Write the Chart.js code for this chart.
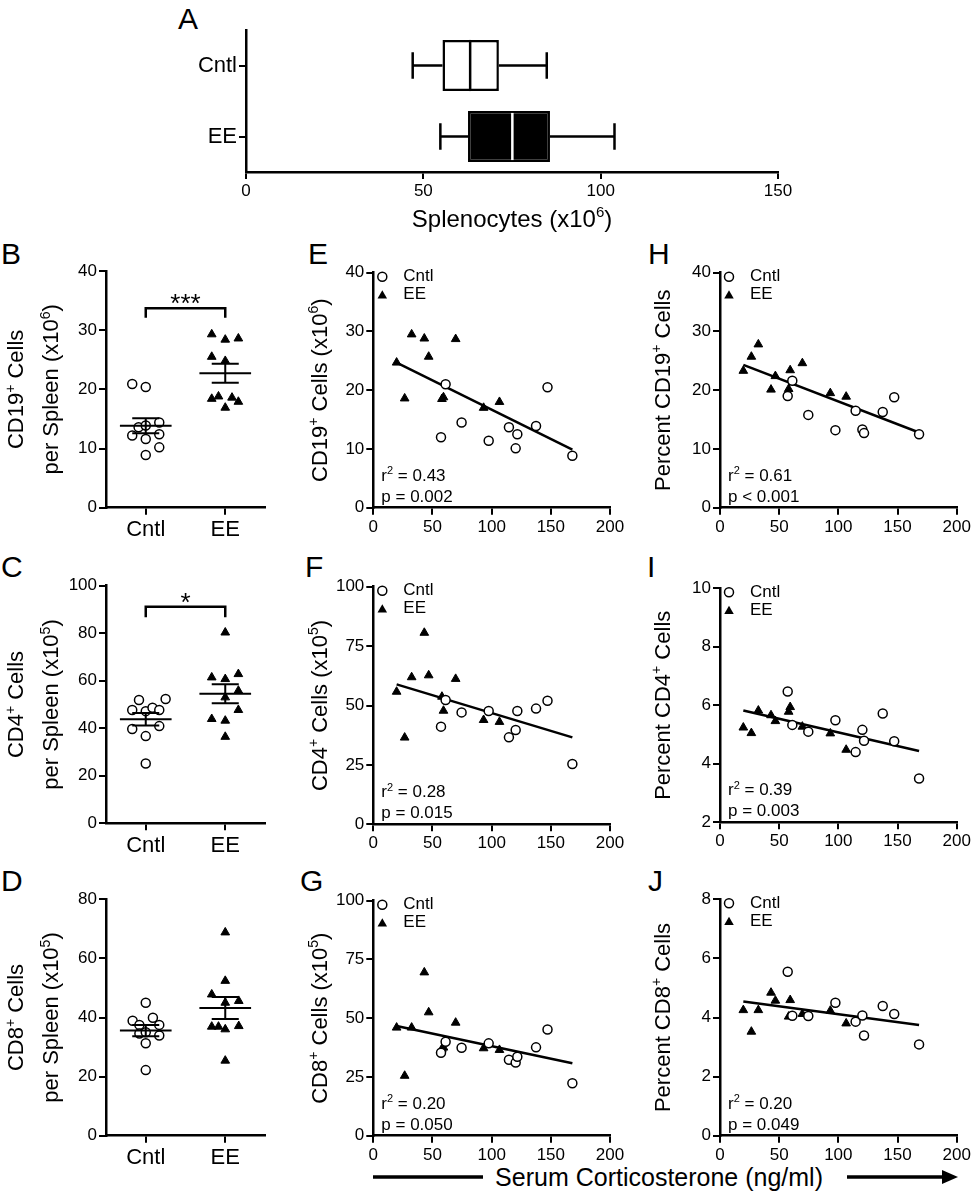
<!DOCTYPE html>
<html><head><meta charset="utf-8">
<script src="https://cdn.jsdelivr.net/npm/chart.js@4.4.1/dist/chart.umd.min.js"></script>
<style>
body{margin:0;background:#fff;}
#page{position:relative;width:971px;height:1197px;overflow:hidden;background:#fff;font-family:'Liberation Sans',Arial,Helvetica,sans-serif;color:#000;}
canvas{position:absolute;}
.lbl{position:absolute;font-size:30px;line-height:30px;white-space:nowrap;}
#xt{position:absolute;font-size:25px;line-height:26px;white-space:nowrap;}
svg{position:absolute;left:0;top:0;}
</style></head><body><div id="page">
<div class="lbl" style="left:178px;top:4px">A</div>
<div class="lbl" style="left:1px;top:239px">B</div>
<div class="lbl" style="left:308px;top:239px">E</div>
<div class="lbl" style="left:648px;top:239px">H</div>
<div class="lbl" style="left:1px;top:552px">C</div>
<div class="lbl" style="left:305px;top:552px">F</div>
<div class="lbl" style="left:647px;top:552px">I</div>
<div class="lbl" style="left:1px;top:866px">D</div>
<div class="lbl" style="left:300px;top:866px">G</div>
<div class="lbl" style="left:648px;top:866px">J</div>
<svg width="971" height="1197">
<line x1="373" y1="1177" x2="483" y2="1177" stroke="#000" stroke-width="3.5"/>
<line x1="847" y1="1177" x2="945" y2="1177" stroke="#000" stroke-width="3.5"/>
<polygon points="942,1170 958,1177 942,1184" fill="#000"/>
</svg>
<div id="xt" style="right:148px;top:1164px">Serum Corticosterone (ng/ml)</div>
</div>
<script>
// ---------- DATA ----------
// Panel A (box plot, splenocytes x10^6)
const boxCategories = ['Cntl', 'EE'];
const boxMin    = [47.0, 54.8];
const boxQ1     = [55.4, 62.6];
const boxMedian = [63.2, 75.1];
const boxQ3     = [71.3, 85.7];
const boxMax    = [84.8, 103.9];
const boxTicks  = [0, 50, 100, 150];

// Panels B-D (per spleen), values + horizontal jitter (in category units)
const groupLabels = ['Cntl', 'EE'];
const cd19Cntl = [20.9, 20.4, 13.6, 13.9, 14.4, 12.2, 11.6, 12.4, 10.2, 8.9];
const cd19CntlJit = [-0.34, 0, -0.18, 0, 0.34, -0.34, 0, 0.34, 0.34, 0];
const cd19EE = [29.3, 28.4, 28.6, 25.5, 24.8, 18.4, 18.8, 18.6, 17.9, 16.9];
const cd19EEJit = [-0.34, 0, 0.33, -0.34, 0, -0.34, -0.17, 0.17, 0.33, 0];
const cd4Cntl = [51.9, 52.3, 47.7, 47.2, 48.6, 47.7, 39.7, 40.9, 36.7, 25.2];
const cd4CntlJit = [-0.17, 0.5, -0.34, 0, 0.17, 0.34, -0.34, 0.34, 0, 0];
const cd4EE = [80.3, 61.4, 60.7, 62.8, 55.8, 53.0, 47.7, 43.9, 43.2, 36.4];
const cd4EEJit = [0, -0.34, 0, 0.33, 0.33, 0, 0.33, -0.34, 0, 0];
const cd8Cntl = [45.0, 38.9, 39.9, 37.5, 37.5, 34.6, 35.0, 33.9, 31.3, 22.2];
const cd8CntlJit = [0, -0.33, 0.18, -0.16, 0.34, -0.16, 0, 0.34, 0, 0];
const cd8EE = [68.8, 52.4, 47.8, 45.0, 45.6, 36.9, 36.9, 36.0, 37.1, 25.4];
const cd8EEJit = [0, 0, -0.34, 0, 0.34, -0.34, -0.17, 0, 0.34, 0];

// Panels E-J: serum corticosterone (ng/ml) per mouse
const cortCntl = [61.1, 57.2, 74.6, 97.5, 114.6, 120.3, 121.7, 137.5, 147.2, 168.2];
const cortEE   = [19.7, 26.5, 32.4, 43.1, 46.8, 58.0, 59.3, 69.6, 93.2, 106.6];
const eCntl = [21.0, 12.0, 14.5, 11.4, 13.7, 10.1, 12.5, 13.9, 20.5, 8.85];
const eEE   = [24.7, 18.6, 29.5, 28.8, 25.7, 18.5, 18.8, 28.7, 17.0, 18.0];
const fCntl = [52.3, 41.1, 47.1, 47.7, 36.6, 39.7, 47.7, 48.7, 52.0, 25.4];
const fEE   = [55.8, 36.5, 61.9, 80.6, 62.7, 53.7, 47.8, 61.2, 43.9, 43.1];
const gCntl = [40.0, 35.3, 37.4, 39.3, 32.3, 31.1, 33.6, 37.6, 45.2, 22.3];
const gEE   = [46.0, 25.5, 46.0, 69.5, 52.5, 37.0, 37.5, 48.1, 37.2, 36.5];
const hCntl = [21.6, 19.0, 15.8, 13.2, 16.5, 13.3, 12.7, 16.3, 18.8, 12.5];
const hEE   = [23.3, 25.7, 27.8, 20.1, 22.4, 20.2, 23.4, 24.6, 19.5, 18.9];
const iCntl = [5.33, 6.47, 5.10, 5.49, 4.40, 5.16, 4.79, 5.72, 4.77, 3.50];
const iEE   = [5.24, 5.05, 5.82, 5.66, 5.46, 5.78, 5.94, 5.27, 5.04, 4.48];
const jCntl = [4.06, 5.55, 4.05, 4.50, 3.86, 4.07, 3.39, 4.39, 4.12, 3.09];
const jEE   = [4.25, 3.52, 4.25, 4.84, 4.57, 4.03, 4.59, 4.12, 4.23, 3.80];

// regression lines: [x start, x end] and y at those x
const fitX  = [19.7, 168.2];
const fitE  = [24.7, 9.9];
const fitF  = [58.9, 36.6];
const fitG  = [46.7, 30.8];
const fitH  = [24.3, 12.8];
const fitI  = [5.82, 4.44];
const fitJ  = [4.54, 3.75];
const statsText = {
  E: ['r{2} = 0.43', 'p = 0.002'], F: ['r{2} = 0.28', 'p = 0.015'], G: ['r{2} = 0.20', 'p = 0.050'],
  H: ['r{2} = 0.61', 'p < 0.001'], I: ['r{2} = 0.39', 'p = 0.003'], J: ['r{2} = 0.20', 'p = 0.049']
};
// axis titles ({..} = superscript)
const titleA = 'Splenocytes (x10{6})';
const titlesBD = [['CD19{+} Cells', 'per Spleen (x10{6})'], ['CD4{+} Cells', 'per Spleen (x10{5})'], ['CD8{+} Cells', 'per Spleen (x10{5})']];
const titlesEG = ['CD19{+} Cells (x10{6})', 'CD4{+} Cells (x10{5})', 'CD8{+} Cells (x10{5})'];
const titlesHJ = ['Percent CD19{+} Cells', 'Percent CD4{+} Cells', 'Percent CD8{+} Cells'];

// ---------- SETUP ----------
const FONT = "'Liberation Sans', Arial, Helvetica, sans-serif";
Chart.defaults.font.family = FONT;
Chart.defaults.color = '#000';
Chart.defaults.animation = false;
Chart.defaults.responsive = false;
Chart.defaults.devicePixelRatio = 1;
Chart.defaults.plugins.legend.display = false;
Chart.defaults.plugins.tooltip.enabled = false;
const page = document.getElementById('page');

function addCanvas(l, t, w, h) {
  const c = document.createElement('canvas');
  c.width = w; c.height = h;
  c.style.left = l + 'px'; c.style.top = t + 'px';
  c.style.width = w + 'px'; c.style.height = h + 'px';
  page.appendChild(c);
  return c;
}

// rich text with {superscript} parts; (cx, cy) = centre; rot = rotation
function parseRich(s) {
  const out = []; const re = /\{([^}]*)\}/g; let last = 0, m;
  while ((m = re.exec(s))) { if (m.index > last) out.push([s.slice(last, m.index), false]); out.push([m[1], true]); last = re.lastIndex; }
  if (last < s.length) out.push([s.slice(last), false]);
  return out;
}
function drawRich(ctx, str, x, y, size, rot, align) {
  const segs = parseRich(str);
  ctx.save();
  ctx.translate(x, y); ctx.rotate(rot || 0);
  ctx.fillStyle = '#000'; ctx.textAlign = 'left'; ctx.textBaseline = 'alphabetic';
  const fonts = segs.map(([t, sup]) => (sup ? Math.round(size * 0.64) : size) + 'px ' + FONT);
  const widths = segs.map(([t], i) => { ctx.font = fonts[i]; return ctx.measureText(t).width; });
  const total = widths.reduce((a, b) => a + b, 0);
  let px = align === 'left' ? 0 : -total / 2;
  const base = size * 0.36;
  segs.forEach(([t, sup], i) => {
    ctx.font = fonts[i];
    ctx.fillText(t, px, sup ? base - size * 0.4 : base);
    px += widths[i];
  });
  ctx.restore();
}

function linScale(o) {
  const s = {
    type: 'linear', min: o.min, max: o.max,
    border: {display: true, color: '#000', width: 2.5},
    grid: {display: true, drawOnChartArea: false, drawTicks: true, tickLength: 7, color: '#000', lineWidth: 2},
    ticks: {color: '#000', font: {size: o.fontSize || 17}, padding: 2, stepSize: o.step, maxRotation: 0, autoSkip: false},
    afterFit(sc) {
      if (o.axis === 'x') sc.height = o.size; else sc.width = o.size;
      sc.paddingLeft = 0; sc.paddingRight = 0; sc.paddingTop = 0; sc.paddingBottom = 0;
    }
  };
  if (o.callback) s.ticks.callback = o.callback;
  return s;
}

// plugin drawing axis titles at given page positions
function titlePlugin(items, cl, ct) {
  return {
    id: 'titles',
    afterDraw(chart) {
      const ctx = chart.ctx;
      items.forEach(it => drawRich(ctx, it.text, it.x - cl, it.y - ct, it.size, it.rot));
    }
  };
}

function mean(a) { return a.reduce((s, v) => s + v, 0) / a.length; }
function sem(a) { const m = mean(a); const v = a.reduce((s, x) => s + (x - m) * (x - m), 0) / (a.length - 1); return Math.sqrt(v / a.length); }

// ---------- PANEL A ----------
const cA = addCanvas(150, 0, 650, 240);
const plA = {l: 246, r: 778, t: 30, b: 172};
const whiskerPlugin = {
  id: 'whiskers',
  afterDatasetsDraw(chart) {
    const {ctx} = chart; const xs = chart.scales.x, ys = chart.scales.y;
    const meta = chart.getDatasetMeta(0);
    ctx.save(); ctx.lineWidth = 2.5; ctx.lineCap = 'butt';
    boxCategories.forEach((c, i) => {
      const y = ys.getPixelForValue(i);
      const h = meta.data[i].height;
      const cap = h * 0.26;
      ctx.strokeStyle = '#000';
      ctx.beginPath();
      ctx.moveTo(xs.getPixelForValue(boxMin[i]), y); ctx.lineTo(xs.getPixelForValue(boxQ1[i]), y);
      ctx.moveTo(xs.getPixelForValue(boxQ3[i]), y); ctx.lineTo(xs.getPixelForValue(boxMax[i]), y);
      ctx.moveTo(xs.getPixelForValue(boxMin[i]), y - cap); ctx.lineTo(xs.getPixelForValue(boxMin[i]), y + cap);
      ctx.moveTo(xs.getPixelForValue(boxMax[i]), y - cap); ctx.lineTo(xs.getPixelForValue(boxMax[i]), y + cap);
      ctx.stroke();
      ctx.strokeStyle = i === 0 ? '#000' : '#fff';
      ctx.beginPath();
      const mx = xs.getPixelForValue(boxMedian[i]);
      ctx.moveTo(mx, y - h / 2 + (i === 0 ? 0 : 2)); ctx.lineTo(mx, y + h / 2 - (i === 0 ? 0 : 2));
      ctx.stroke();
    });
    ctx.restore();
  }
};
new Chart(cA, {
  type: 'bar',
  data: {labels: boxCategories, datasets: [{
    data: boxCategories.map((_, i) => [boxQ1[i], boxQ3[i]]),
    backgroundColor: ['#fff', '#000'], borderColor: '#000', borderWidth: 2.5, borderSkipped: false,
    barPercentage: 0.72, categoryPercentage: 1
  }]},
  options: {
    indexAxis: 'y',
    layout: {padding: {top: plA.t, right: 800 - plA.r, left: 0, bottom: 0}},
    scales: {
      x: Object.assign(linScale({axis: 'x', min: 0, max: 150, step: 50, size: 240 - plA.b}),
        {afterBuildTicks(sc) { sc.ticks = boxTicks.map(v => ({value: v})); }}),
      y: {
        type: 'category',
        border: {display: true, color: '#000', width: 2.5},
        grid: {display: true, offset: false, drawOnChartArea: false, drawTicks: true, tickLength: 7, color: '#000', lineWidth: 2},
        ticks: {color: '#000', font: {size: 22}, padding: 2},
        afterFit(sc) { sc.width = plA.l - 150; sc.paddingTop = 0; sc.paddingBottom = 0; sc.paddingLeft = 0; sc.paddingRight = 0; }
      }
    }
  },
  plugins: [whiskerPlugin, titlePlugin([{text: titleA, x: (plA.l + plA.r) / 2, y: 218, size: 24, rot: 0}], 150, 0)]
});

// ---------- PANELS B-D ----------
function dotPanel(p) {
  const c = addCanvas(p.cl, p.ct, p.cw, p.ch);
  const plug = {
    id: 'meansem',
    afterDatasetsDraw(chart) {
      const {ctx} = chart; const xs = chart.scales.x, ys = chart.scales.y;
      ctx.save(); ctx.strokeStyle = '#000'; ctx.lineWidth = 2;
      [[p.cntl, 1], [p.ee, 3]].forEach(([arr, cx]) => {
        const m = mean(arr), s = sem(arr);
        const ym = ys.getPixelForValue(m), yt = ys.getPixelForValue(m + s), yb = ys.getPixelForValue(m - s);
        ctx.beginPath();
        ctx.moveTo(xs.getPixelForValue(cx - 0.65), ym); ctx.lineTo(xs.getPixelForValue(cx + 0.65), ym);
        ctx.moveTo(xs.getPixelForValue(cx - 0.34), yt); ctx.lineTo(xs.getPixelForValue(cx + 0.34), yt);
        ctx.moveTo(xs.getPixelForValue(cx - 0.34), yb); ctx.lineTo(xs.getPixelForValue(cx + 0.34), yb);
        ctx.moveTo(xs.getPixelForValue(cx), yt); ctx.lineTo(xs.getPixelForValue(cx), yb);
        ctx.stroke();
      });
      if (p.sig) {
        const [txt, starV, barV, legV] = p.sig;
        const x1 = xs.getPixelForValue(1), x2 = xs.getPixelForValue(3);
        const yb = ys.getPixelForValue(barV), yl = ys.getPixelForValue(legV);
        ctx.lineWidth = 2.5;
        ctx.beginPath();
        ctx.moveTo(x1, yl); ctx.lineTo(x1, yb); ctx.lineTo(x2, yb); ctx.lineTo(x2, yl);
        ctx.stroke();
        ctx.fillStyle = '#000'; ctx.font = '26px ' + FONT; ctx.textAlign = 'center'; ctx.textBaseline = 'alphabetic';
        ctx.fillText(txt, (x1 + x2) / 2, ys.getPixelForValue(starV) + 0.57 * 26);
      }
      ctx.restore();
    }
  };
  const xScale = linScale({axis: 'x', min: 0, max: 4, size: p.ct + p.ch - p.pb, fontSize: 22,
    callback: (v) => v === 1 ? groupLabels[0] : (v === 3 ? groupLabels[1] : '')});
  xScale.afterBuildTicks = (sc) => { sc.ticks = [{value: 1}, {value: 3}]; };
  const midY = (p.pt + p.pb) / 2;
  new Chart(c, {
    type: 'scatter',
    data: {datasets: [
      {data: p.cntl.map((v, i) => ({x: 1 + p.cntlJit[i], y: v})), pointStyle: 'circle', pointRadius: 4.5,
       backgroundColor: '#fff', borderColor: '#000', borderWidth: 1.5},
      {data: p.ee.map((v, i) => ({x: 3 + p.eeJit[i], y: v})), pointStyle: 'triangle', pointRadius: 5,
       backgroundColor: '#000', borderColor: '#000', borderWidth: 1}
    ]},
    options: {
      layout: {padding: {top: p.pt - p.ct, right: p.cl + p.cw - p.pr, left: 0, bottom: 0}},
      scales: {
        x: xScale,
        y: linScale({axis: 'y', min: p.min, max: p.max, step: p.step, size: p.pl - p.cl})
      }
    },
    plugins: [plug, titlePlugin([
      {text: p.title[0], x: 15.5, y: midY, size: 22, rot: -Math.PI / 2},
      {text: p.title[1], x: 50.5, y: midY, size: 22, rot: -Math.PI / 2}
    ], p.cl, p.ct)]
  });
}

const colB = {cl: -2, cw: 292, pl: 106, pr: 265};
[
  {ct: 236, ch: 304, pt: 271, pb: 507.7, min: 0, max: 40, step: 10, cntl: cd19Cntl, cntlJit: cd19CntlJit, ee: cd19EE, eeJit: cd19EEJit,
   title: titlesBD[0], sig: ['***', 35.6, 33.7, 32.1]},
  {ct: 550, ch: 305, pt: 585.7, pb: 823.3, min: 0, max: 100, step: 20, cntl: cd4Cntl, cntlJit: cd4CntlJit, ee: cd4EE, eeJit: cd4EEJit,
   title: titlesBD[1], sig: ['*', 95.6, 91.1, 86.7]},
  {ct: 864, ch: 305, pt: 899.3, pb: 1135.7, min: 0, max: 80, step: 20, cntl: cd8Cntl, cntlJit: cd8CntlJit, ee: cd8EE, eeJit: cd8EEJit,
   title: titlesBD[2]}
].forEach(p => dotPanel(Object.assign({}, colB, p)));

// ---------- PANELS E-J ----------
function drawTri(ctx, x, y, r) {
  ctx.beginPath();
  ctx.moveTo(x, y - r);
  ctx.lineTo(x + r * Math.cos(Math.PI / 6), y + r / 2);
  ctx.lineTo(x - r * Math.cos(Math.PI / 6), y + r / 2);
  ctx.closePath(); ctx.fill();
}
function scatterPanel(p) {
  const c = addCanvas(p.cl, p.ct, p.cw, p.ch);
  const plug = {
    id: 'annot',
    afterDatasetsDraw(chart) {
      const {ctx, chartArea: a} = chart;
      ctx.save();
      ctx.strokeStyle = '#000'; ctx.lineWidth = 1.5;
      ctx.beginPath(); ctx.arc(a.left + 9, a.top + 4, 4.5, 0, Math.PI * 2);
      ctx.fillStyle = '#fff'; ctx.fill(); ctx.stroke();
      ctx.fillStyle = '#000';
      drawTri(ctx, a.left + 9, a.top + 23, 5.5);
      ctx.font = '17px ' + FONT; ctx.textAlign = 'left'; ctx.textBaseline = 'middle';
      ctx.fillText('Cntl', a.left + 30, a.top + 4);
      ctx.fillText('EE', a.left + 30, a.top + 22);
      ctx.restore();
      drawRich(ctx, p.stats[0], a.left + 8, a.bottom - 33, 17, 0, 'left');
      drawRich(ctx, p.stats[1], a.left + 8, a.bottom - 12, 17, 0, 'left');
    }
  };
  new Chart(c, {
    type: 'scatter',
    data: {datasets: [
      {data: cortCntl.map((x, i) => ({x, y: p.cntl[i]})), pointStyle: 'circle', pointRadius: 4.5,
       backgroundColor: '#fff', borderColor: '#000', borderWidth: 1.5, order: 1},
      {data: cortEE.map((x, i) => ({x, y: p.ee[i]})), pointStyle: 'triangle', pointRadius: 5,
       backgroundColor: '#000', borderColor: '#000', borderWidth: 1, order: 2},
      {type: 'line', data: fitX.map((x, i) => ({x, y: p.fit[i]})), borderColor: '#000', borderWidth: 2.5,
       pointRadius: 0, showLine: true, fill: false, order: 5}
    ]},
    options: {
      layout: {padding: {top: p.pt - p.ct, right: p.cl + p.cw - p.pr, left: 0, bottom: 0}},
      scales: {
        x: linScale({axis: 'x', min: 0, max: 200, step: 50, size: p.ct + p.ch - p.pb}),
        y: linScale({axis: 'y', min: p.min, max: p.max, step: p.step, size: p.pl - p.cl})
      }
    },
    plugins: [plug, titlePlugin([{text: p.title, x: p.tx, y: (p.pt + p.pb) / 2, size: 22, rot: -Math.PI / 2}], p.cl, p.ct)]
  });
}
const colE = {cl: 290, cw: 345, pl: 373.3, pr: 610, tx: 319};
const colH = {cl: 635, cw: 336, pl: 720, pr: 956.7, tx: 662};
[
  Object.assign({}, colE, {ct: 236, ch: 304, pt: 272.7, pb: 507.7, min: 0, max: 40, step: 10, cntl: eCntl, ee: eEE, fit: fitE, stats: statsText.E, title: titlesEG[0]}),
  Object.assign({}, colE, {ct: 550, ch: 305, pt: 586.7, pb: 824.3, min: 0, max: 100, step: 25, cntl: fCntl, ee: fEE, fit: fitF, stats: statsText.F, title: titlesEG[1]}),
  Object.assign({}, colE, {ct: 864, ch: 305, pt: 900.7, pb: 1135.7, min: 0, max: 100, step: 25, cntl: gCntl, ee: gEE, fit: fitG, stats: statsText.G, title: titlesEG[2]}),
  Object.assign({}, colH, {ct: 236, ch: 304, pt: 272.7, pb: 507.7, min: 0, max: 40, step: 10, cntl: hCntl, ee: hEE, fit: fitH, stats: statsText.H, title: titlesHJ[0]}),
  Object.assign({}, colH, {ct: 550, ch: 305, pt: 588.3, pb: 822.3, min: 2, max: 10, step: 2, cntl: iCntl, ee: iEE, fit: fitI, stats: statsText.I, title: titlesHJ[1]}),
  Object.assign({}, colH, {ct: 864, ch: 305, pt: 899.3, pb: 1135.7, min: 0, max: 8, step: 2, cntl: jCntl, ee: jEE, fit: fitJ, stats: statsText.J, title: titlesHJ[2]})
].forEach(scatterPanel);
</script>
</body></html>
